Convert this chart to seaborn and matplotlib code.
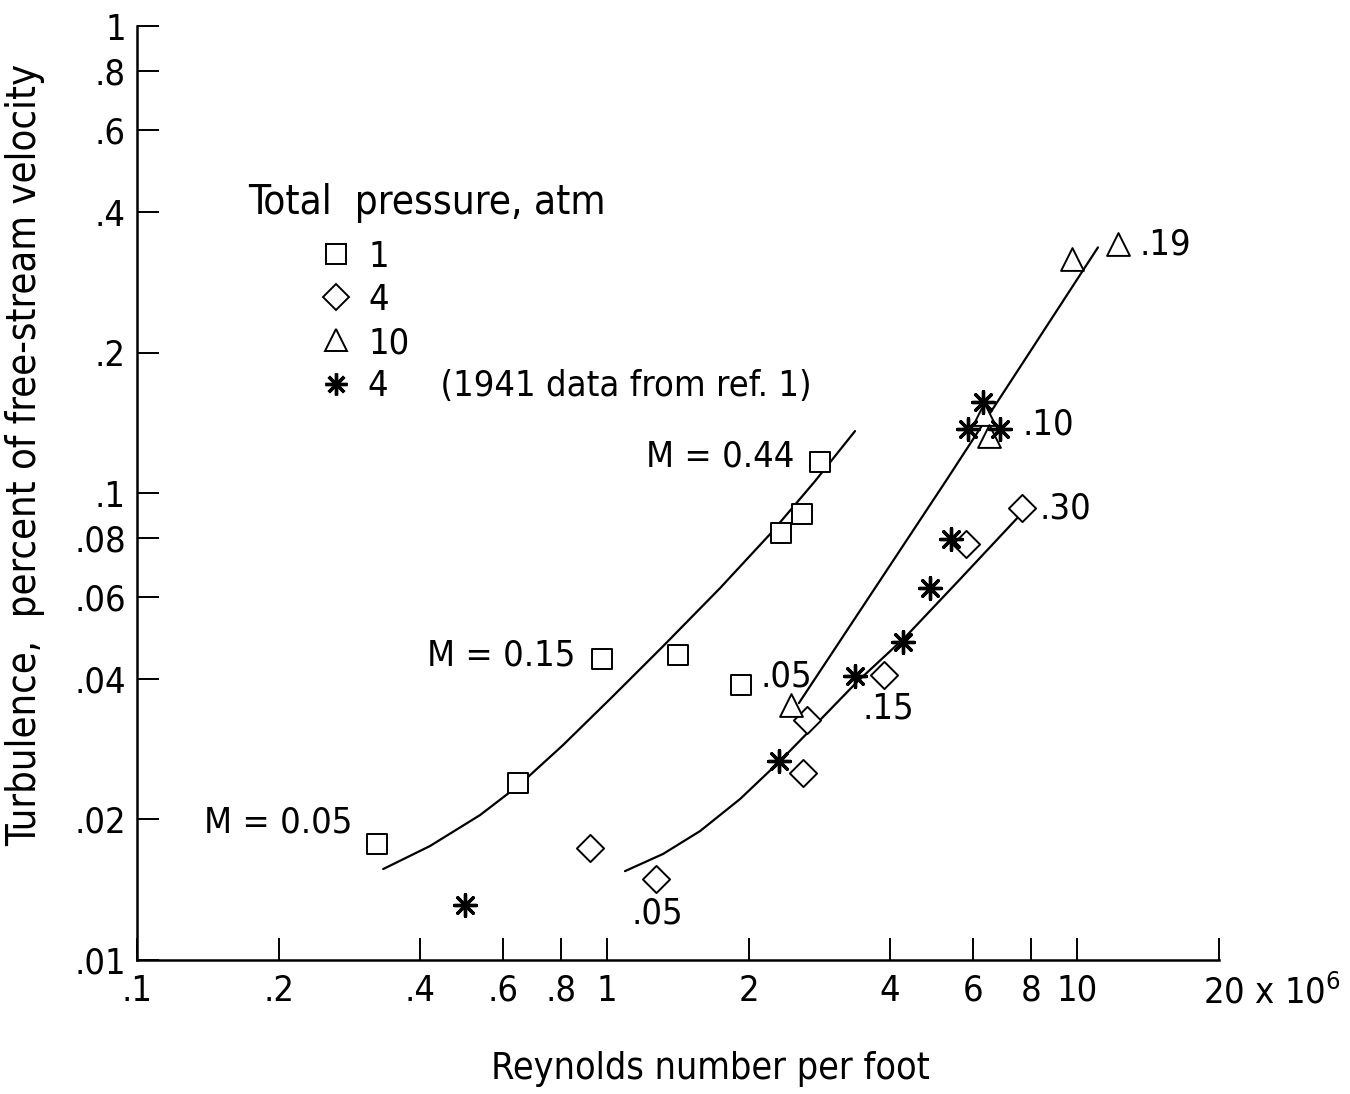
import numpy as np
import pandas as pd
import matplotlib
matplotlib.use("Agg")
import matplotlib.pyplot as plt
import matplotlib.transforms as mtransforms
import seaborn as sns
from matplotlib.lines import Line2D

# Reynolds number per foot (x 10^6) and turbulence (percent)
sq_re = [0.324, 0.647, 0.976, 1.416, 1.928, 2.345, 2.60, 2.84]
sq_tu = [0.0177, 0.0239, 0.0441, 0.0450, 0.0388, 0.0821, 0.0902, 0.1165]

dia_re = [0.920, 1.27, 2.61, 2.66, 3.88, 5.80, 7.62]
dia_tu = [0.0174, 0.0149, 0.0251, 0.0327, 0.0408, 0.0778, 0.0929]

tri_re = [2.46, 6.34, 6.50, 9.76, 12.2]
tri_tu = [0.0352, 0.1476, 0.1324, 0.317, 0.341]

star_re = [0.499, 2.32, 3.37, 4.26, 4.87, 5.39, 5.86, 6.31, 6.86]
star_tu = [0.0131, 0.0267, 0.0406, 0.0480, 0.0626, 0.0797, 0.137, 0.1566, 0.137]

# faired curves
c1_re = [0.334, 0.420, 0.537, 0.650, 0.806, 1.015, 1.316, 1.740, 2.223, 2.771, 3.37]
c1_tu = [0.01566, 0.01754, 0.02044, 0.02369, 0.02886, 0.03622, 0.0470, 0.0626, 0.0817, 0.1061, 0.1358]

c4_re = [1.092, 1.316, 1.578, 1.919, 2.323, 2.84, 3.40, 4.31, 5.64, 7.60]
c4_tu = [0.0155, 0.01687, 0.01889, 0.02212, 0.02655, 0.03266, 0.03937, 0.04915, 0.06544, 0.0902]

c10_re = [2.56, 5.29, 11.08]
c10_tu = [0.0355, 0.1071, 0.336]

xticks = [0.1, 0.2, 0.4, 0.6, 0.8, 1, 2, 4, 6, 8, 10, 20]
xticklabels = [".1", ".2", ".4", ".6", ".8", "1", "2", "4", "6", "8", "10", "20 x 10$^{6}$"]
yticks = [0.01, 0.02, 0.04, 0.06, 0.08, 0.1, 0.2, 0.4, 0.6, 0.8, 1]
yticklabels = [".01", ".02", ".04", ".06", ".08", ".1", ".2", ".4", ".6", ".8", "1"]

sns.set_theme(style="ticks")
plt.rcParams["font.family"] = ["DejaVu Sans"]
plt.rcParams["font.stretch"] = "condensed"
plt.rcParams["mathtext.fontset"] = "custom"
plt.rcParams["mathtext.rm"] = "DejaVu Sans:stretch=condensed"

fig = plt.figure(figsize=(13.5, 10.94), dpi=100)
ax = fig.add_axes([0.1015, 0.1225, 0.8011, 0.8535])

ms = 15
for xs, ys in [(c1_re, c1_tu), (c4_re, c4_tu), (c10_re, c10_tu)]:
    sns.lineplot(x=xs, y=ys, ax=ax, sort=False, estimator=None,
                 color="black", linewidth=1.6)

sns.scatterplot(x=sq_re, y=sq_tu, ax=ax, marker="s", s=ms**2 * 0.95,
                facecolor="white", edgecolor="black", linewidth=1.4, zorder=3)
sns.scatterplot(x=dia_re, y=dia_tu, ax=ax, marker="D", s=ms**2 * 0.85,
                facecolor="white", edgecolor="black", linewidth=1.4, zorder=3)
sns.scatterplot(x=tri_re, y=tri_tu, ax=ax, marker="^", s=ms**2 * 1.2,
                facecolor="white", edgecolor="black", linewidth=1.4, zorder=3)
sns.scatterplot(x=star_re, y=star_tu, ax=ax, marker=(8, 2, 0), s=ms**2 * 1.1,
                color="black", linewidth=2.4, zorder=4)

ax.set_xscale("log")
ax.set_yscale("log")
ax.set_xlim(0.1, 20)
ax.set_ylim(0.01, 1)
ax.set_xticks(xticks)
ax.set_xticklabels(xticklabels)
ax.set_yticks(yticks)
ax.set_yticklabels(yticklabels)
ax.minorticks_off()
ax.tick_params(axis="both", direction="in", length=16, width=1.4,
               labelsize=26, pad=8, color="black", labelcolor="black")
ax.tick_params(axis="x", pad=10)
for lab in ax.get_xticklabels()[-1:]:
    lab.set_ha("left")
    lab.set_transform(lab.get_transform() +
                      mtransforms.ScaledTranslation(-0.16, 0, fig.dpi_scale_trans))

sns.despine(ax=ax)
for sp in ["left", "bottom"]:
    ax.spines[sp].set_linewidth(1.8)
    ax.spines[sp].set_color("black")

ax.set_xlabel("Reynolds number per foot", fontsize=27, color="black")
ax.set_ylabel("Turbulence,  percent of free-stream velocity", fontsize=28.5, color="black")
ax.xaxis.set_label_coords(0.53, -0.098)
ax.yaxis.set_label_coords(-0.085, 0.541)

# curve annotations
txt = dict(fontsize=26, color="black", va="center")
ax.text(2.51, 0.120, "M = 0.44", ha="right", **txt)
ax.text(0.855, 0.0448, "M = 0.15", ha="right", **txt)
ax.text(0.287, 0.0197, "M = 0.05", ha="right", **txt)
ax.text(2.12, 0.0405, ".05", ha="left", **txt)
ax.text(1.13, 0.0126, ".05", ha="left", **txt)
ax.text(3.49, 0.0345, ".15", ha="left", **txt)
ax.text(8.34, 0.0925, ".30", ha="left", **txt)
ax.text(7.64, 0.140, ".10", ha="left", **txt)
ax.text(13.6, 0.340, ".19", ha="left", **txt)

# legend
ax.text(0.1026, 0.8105, "Total  pressure, atm", transform=ax.transAxes,
        fontsize=29, va="center", ha="left", color="black")
handles = [
    Line2D([], [], ls="", marker="s", ms=ms * 0.95, mfc="white", mec="black", mew=1.4),
    Line2D([], [], ls="", marker="D", ms=ms * 0.9, mfc="white", mec="black", mew=1.4),
    Line2D([], [], ls="", marker="^", ms=ms * 1.05, mfc="white", mec="black", mew=1.4),
    Line2D([], [], ls="", marker=(8, 2, 0), ms=ms * 1.05, color="black", mew=2.4),
]
labels = ["1", "4", "10", "4     (1941 data from ref. 1)"]
leg = ax.legend(handles, labels, loc="upper left", bbox_to_anchor=(0.167, 0.771),
                frameon=False, fontsize=26, handlelength=1.0, handletextpad=0.4,
                labelspacing=0.25, borderpad=0, borderaxespad=0, labelcolor="black")

fig.savefig("out.png", dpi=100)
